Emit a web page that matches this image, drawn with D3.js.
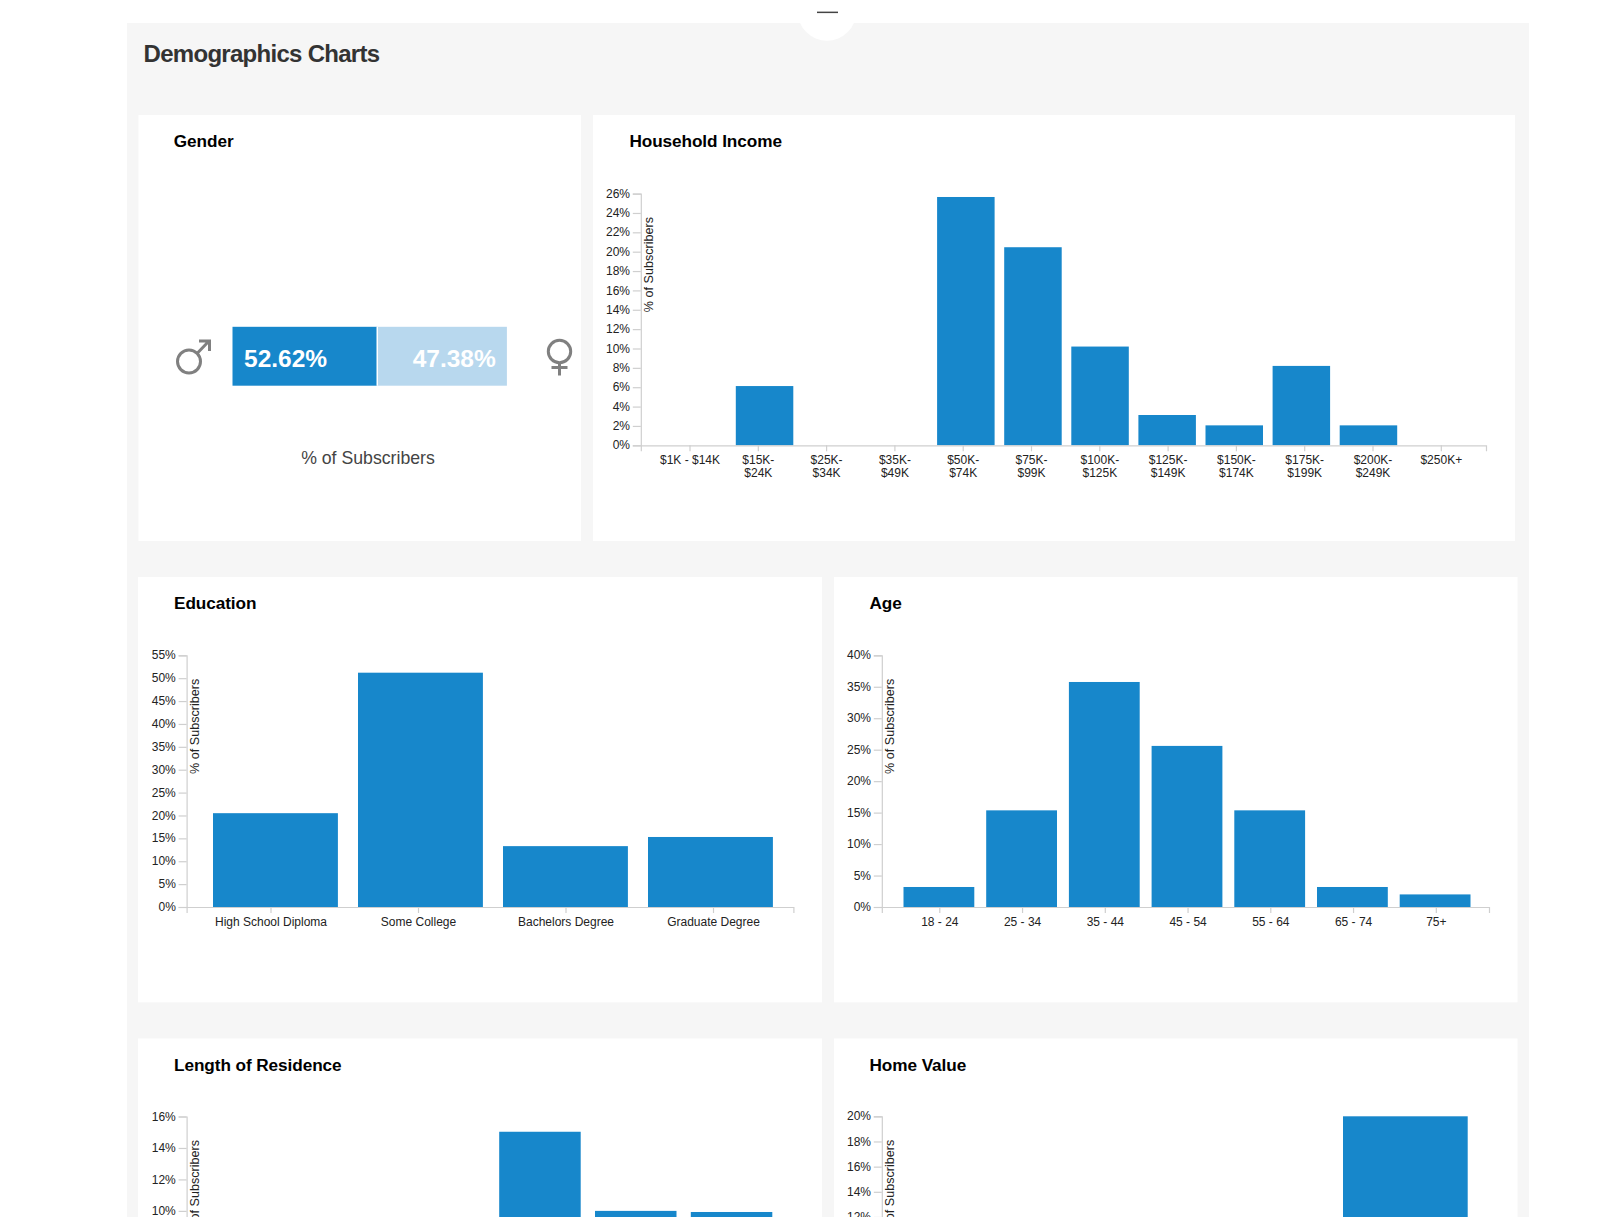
<!DOCTYPE html>
<html><head><meta charset="utf-8">
<script src="https://cdn.jsdelivr.net/npm/d3@7/dist/d3.min.js"></script>
<style>
html,body{margin:0;padding:0;background:#fff;overflow:hidden}
svg{display:block}
text{font-family:"Liberation Sans",Arial,sans-serif}
.domain,.tick line{stroke:#cfcfcf;stroke-width:1.2px}
.tick text{font-size:12px;fill:#222}
</style></head><body><svg id="c" width="1623" height="1217"></svg>
<script>
const genderLabels=["Male","Female"];
const genderValues=[52.62,47.38];
const incomeCats=["$1K - $14K","$15K- $24K","$25K- $34K","$35K- $49K","$50K- $74K","$75K- $99K","$100K- $125K","$125K- $149K","$150K- $174K","$175K- $199K","$200K- $249K","$250K+"];
const incomeVals=[0,6.12,0,0,25.65,20.46,10.2,3.13,2.06,8.2,2.06,0];
const incomeTicks=d3.range(0,27,2);
const eduCats=["High School Diploma","Some College","Bachelors Degree","Graduate Degree"];
const eduVals=[20.5,51.2,13.3,15.3];
const eduTicks=d3.range(0,56,5);
const ageCats=["18 - 24","25 - 34","35 - 44","45 - 54","55 - 64","65 - 74","75+"];
const ageVals=[3.18,15.36,35.76,25.6,15.36,3.18,2.0];
const ageTicks=d3.range(0,41,5);
// The last two charts run off the bottom of the picture: only what shows can be read.
const residenceSlots=[0,1,2,3,4,5];
const residenceVals=[null,null,null,15.03,10.0,9.93];
const residenceTicks=[10,12,14,16];
const homeSlots=[0,1,2,3];
const homeVals=[null,null,null,20];
const homeTicks=[12,14,16,18,20];

const BLUE="#1787cb",LIGHT="#b8d8ee";
const svg=d3.select("#c");
const rect=(x,y,w,h,f)=>svg.append("rect").attr("x",x).attr("y",y).attr("width",w).attr("height",h).attr("fill",f);
rect(127,23,1402,1194,"#f6f6f6");
svg.append("circle").attr("cx",827).attr("cy",11.25).attr("r",29.45).attr("fill","#fff");
rect(817,11.6,21,1.5,"#444");
svg.append("text").attr("x",143.6).attr("y",62).attr("font-size",24).attr("font-weight",700).attr("fill","#333")
   .attr("textLength",236.5).attr("lengthAdjust","spacing").text("Demographics Charts");

function card(x0,x1,y0,y1,title,tx){
  rect(x0,y0,x1-x0,y1-y0,"#fff");
  svg.append("text").attr("x",tx-.2).attr("y",y0+32).attr("font-size",17.2).attr("letter-spacing","-0.08px").attr("font-weight",700).attr("fill","#000").text(title);
}
function chart(o){
  const g=svg.append("g");
  const y=d3.scaleLinear().domain([0,d3.max(o.ticks)]).range([o.y0,o.y0-251.7]);
  const n=o.cats.length;
  const W=o.axisR-o.axisL;
  const po=(W/o.tickStep-n)/2;
  const al=(o.firstTick-o.tickStep/2-o.axisL)/(W-o.tickStep*n);
  const xAxisScale=d3.scaleBand().domain(o.cats).range([o.axisL,o.axisR]).paddingInner(0).paddingOuter(po).align(al);
  const pi=1-o.barW/o.barStep;
  const xBar=d3.scaleBand().domain(o.cats).range([o.barX,o.barX+o.barStep*(n-pi)]).paddingInner(pi).paddingOuter(0);
  g.selectAll("rect.bar").data(o.vals.map((v,i)=>({c:o.cats[i],v})).filter(d=>d.v!==null&&d.v>0)).join("rect")
    .attr("class","bar").attr("x",d=>xBar(d.c)).attr("width",xBar.bandwidth())
    .attr("y",d=>y(d.v)).attr("height",d=>y(0)-y(d.v)).attr("fill",BLUE);
  if(!o.hideX){
    const ax=g.append("g").attr("transform",`translate(0,${o.y0})`)
      .call(d3.axisBottom(xAxisScale).tickSize(6).tickPadding(0));
    ax.selectAll(".tick text").each(function(d){
      const t=d3.select(this).text(null).attr("y",0).attr("dy",null);
      d.split(/(?<=K-) /).forEach((p,i)=>t.append("tspan").attr("x",0).attr("y",19+13*i).text(p));
    });
  }
  const ay=g.append("g").attr("transform",`translate(${o.axisL},0)`)
    .call(d3.axisLeft(y).tickValues(o.ticks).tickFormat(d=>d+"%").tickSize(8).tickPadding(2.8));
  ay.selectAll(".tick text").attr("dy","0.3em");
  g.append("text").attr("transform",`translate(${o.axisL+12.6},${o.y0-251.7+71}) rotate(-90)`)
    .attr("text-anchor","middle").attr("font-size",12.6).attr("fill","#222").text("% of Subscribers");
}

// Cards
card(138.5,581,115,541,"Gender",174);
card(593,1515,115,541,"Household Income",629.6);
card(138,822,577,1002.3,"Education",174.2);
card(834,1517.5,577,1002.3,"Age",869.7);
card(138,822,1038.5,1217,"Length of Residence",174.2);
card(834,1517.5,1038.5,1217,"Home Value",869.7);

// Gender bar
const gx=d3.scaleLinear().domain([0,100]).range([232.5,506.9]);
const segs=d3.cumsum(genderValues);
genderValues.forEach((v,i)=>{
  const a=gx(i?segs[i-1]:0),b=gx(segs[i]);
  svg.append("rect").attr("x",a).attr("y",326.8).attr("width",b-a).attr("height",58.9)
    .attr("fill",i?LIGHT:BLUE).attr("data-label",genderLabels[i]);
});
svg.append("rect").attr("x",gx(segs[0])-.3).attr("y",326.8).attr("width",1.4).attr("height",58.9).attr("fill","#fff");
svg.append("text").attr("x",244).attr("y",367).attr("font-size",24.5).attr("font-weight",700).attr("fill","#fff").text(genderValues[0].toFixed(2)+"%");
svg.append("text").attr("x",495.8).attr("y",367).attr("text-anchor","end").attr("font-size",24.5).attr("font-weight",700).attr("fill","#fff").text(genderValues[1].toFixed(2)+"%");
svg.append("text").attr("x",368).attr("y",464).attr("text-anchor","middle").attr("font-size",17.7).attr("fill","#444").text("% of Subscribers");
// Gender symbols
const sym=svg.append("g").attr("fill","none").attr("stroke","#808080").attr("stroke-width",3);
sym.append("circle").attr("cx",189).attr("cy",361.5).attr("r",11.5);
sym.append("path").attr("d","M197.5 353 L209 341 M199 341 H209.5 V351");
sym.append("circle").attr("cx",559.5).attr("cy",351.5).attr("r",11.2);
sym.append("path").attr("d","M559.5 362.7 V375.5 M551.5 367.5 H567.5");

chart({cats:incomeCats,vals:incomeVals,ticks:incomeTicks,y0:445.3,axisL:640.8,axisR:1486,firstTick:690,tickStep:68.3,barX:668.7,barStep:67.1,barW:57.5});
chart({cats:eduCats,vals:eduVals,ticks:eduTicks,y0:907,axisL:186.6,axisR:793.4,firstTick:271,tickStep:147.5,barX:213,barStep:145,barW:124.9});
chart({cats:ageCats,vals:ageVals,ticks:ageTicks,y0:907,axisL:881.8,axisR:1489,firstTick:939.8,tickStep:82.75,barX:903.5,barStep:82.7,barW:70.8});
chart({cats:residenceSlots,vals:residenceVals,ticks:residenceTicks,y0:1368.2,axisL:186.6,axisR:793.4,firstTick:240,tickStep:98,barX:211.8,barStep:95.8,barW:81.5,hideX:true});
chart({cats:homeSlots,vals:homeVals,ticks:homeTicks,y0:1368,axisL:881.8,axisR:1489,firstTick:966,tickStep:147.3,barX:908,barStep:145,barW:124.7,hideX:true});
</script></body></html>
